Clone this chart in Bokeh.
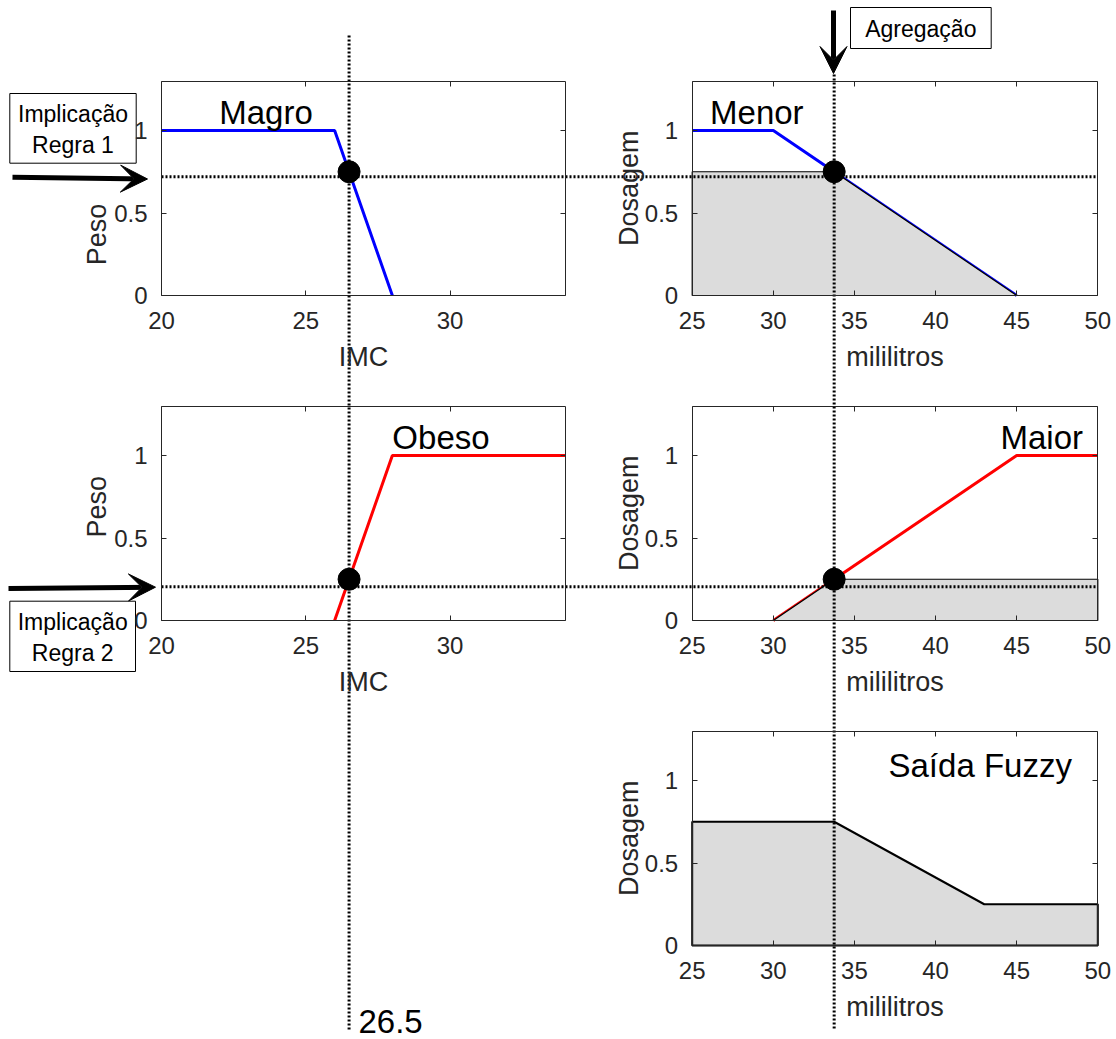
import math
from bokeh.plotting import figure
from bokeh.models import (Range1d, LinearAxis, FixedTicker, NumeralTickFormatter,
                          Arrow, VeeHead)
from bokeh.core.properties import value
from bokeh.embed import file_html
from bokeh.resources import INLINE

# ---------------- data ----------------
imc_entrada = 26.5
dose_corte = 33.75
grau_regra1 = 0.75
grau_regra2 = 0.25

magro_x = [20, 26, 28]
magro_y = [1, 1, 0]
obeso_x = [26, 28, 34]
obeso_y = [0, 1, 1]
menor_x = [25, 30, 45]
menor_y = [1, 1, 0]
maior_x = [30, 45, 50]
maior_y = [0, 1, 1]

menor_corte_x = [25, 25, 33.75, 45]
menor_corte_y = [0, 0.75, 0.75, 0]
maior_corte_x = [30, 33.75, 50, 50]
maior_corte_y = [0, 0.25, 0.25, 0]
saida_x = [25, 25, 33.75, 43, 50, 50]
saida_y = [0, 0.75, 0.75, 0.25, 0.25, 0]

guia_regra1 = 0.72
guia_regra2 = 0.205

imc_ticks = [20, 25, 30]
ml_ticks = [25, 30, 35, 40, 45, 50]
grau_ticks = [0, 0.5, 1]
imc_lim = (20, 34)
ml_lim = (25, 50)
grau_lim = (0, 1.3)

# ---------------- layout ----------------
W, H = 1116, 1039
FX0, FX1 = 0, W          # page x of frame edges
FY_BOT, FY_TOP = H, 0    # page y of frame edges

LEFT_PX = (161, 565)
RIGHT_PX = (691.7, 1097.3)
ROW_T = (295, 80.5)
ROW_M = (620, 405.5)
ROW_B = (945, 730.5)

panels = {
    "tl": (imc_lim, LEFT_PX, ROW_T, imc_ticks),
    "ml": (imc_lim, LEFT_PX, ROW_M, imc_ticks),
    "tr": (ml_lim, RIGHT_PX, ROW_T, ml_ticks),
    "mr": (ml_lim, RIGHT_PX, ROW_M, ml_ticks),
    "br": (ml_lim, RIGHT_PX, ROW_B, ml_ticks),
}

FONT = "Liberation Sans"
AX = "#262626"


def span_range(d0, d1, p0, p1, f_start, f_end):
    s = (d1 - d0) / (p1 - p0)
    return Range1d(start=d0 + (f_start - p0) * s, end=d0 + (f_end - p0) * s)


p = figure(width=W, height=H, x_range=Range1d(FX0, FX1), y_range=Range1d(FY_BOT, FY_TOP),
           x_axis_type=None, y_axis_type=None, toolbar_location=None,
           output_backend="svg", min_border=0, outline_line_color=None)
p.grid.visible = False

xr_extra, yr_extra = {}, {}
for k, (xlim, px, py, _) in panels.items():
    xr_extra[k + "_x"] = span_range(xlim[0], xlim[1], px[0], px[1], FX0, FX1)
    yr_extra[k + "_y"] = span_range(grau_lim[0], grau_lim[1], py[0], py[1], FY_BOT, FY_TOP)
p.extra_x_ranges = xr_extra
p.extra_y_ranges = yr_extra


def R(k):
    return dict(x_range_name=k + "_x", y_range_name=k + "_y")


def base_axis(k):
    return dict(x_range_name=k + "_x", y_range_name=k + "_y",
                axis_line_color=AX, axis_line_width=1,
                major_tick_line_color=AX, major_tick_line_width=1,
                minor_tick_line_color=None, major_tick_in=5, major_tick_out=0,
                major_label_text_font=FONT, major_label_text_font_size="24px",
                major_label_text_color=AX)


for k, (xlim, px, py, xticks) in panels.items():
    b = base_axis(k)
    ax_b = LinearAxis(ticker=FixedTicker(ticks=xticks), bounds=xlim,
                      fixed_location=grau_lim[0], major_label_standoff=16, **b)
    p.add_layout(ax_b, "below")
    b = base_axis(k); b["major_label_text_color"] = None
    ax_t = LinearAxis(ticker=FixedTicker(ticks=xticks), bounds=xlim,
                      fixed_location=grau_lim[1], **b)
    p.add_layout(ax_t, "above")
    b = base_axis(k)
    ax_l = LinearAxis(ticker=FixedTicker(ticks=grau_ticks), bounds=grau_lim,
                      formatter=NumeralTickFormatter(format="0.[0]"),
                      fixed_location=xlim[0], major_label_standoff=14, **b)
    p.add_layout(ax_l, "left")
    b = base_axis(k); b["major_label_text_color"] = None
    ax_r = LinearAxis(ticker=FixedTicker(ticks=grau_ticks), bounds=grau_lim,
                      fixed_location=xlim[1], **b)
    p.add_layout(ax_r, "right")

# membership functions
p.line(magro_x, magro_y, line_color="#0000ff", line_width=3, **R("tl"))
p.line(obeso_x, obeso_y, line_color="#ff0000", line_width=3, **R("ml"))
p.line(menor_x, menor_y, line_color="#0000ff", line_width=3, **R("tr"))
p.line(maior_x, maior_y, line_color="#ff0000", line_width=3, **R("mr"))

# clipped consequents and aggregated output
GRAY = "#dcdcdc"
p.patch(menor_corte_x, menor_corte_y, fill_color=GRAY, line_color="black", line_width=1.2, **R("tr"))
p.patch(maior_corte_x, maior_corte_y, fill_color=GRAY, line_color="black", line_width=1.2, **R("mr"))
p.patch(saida_x, saida_y, fill_color=GRAY, line_color="black", line_width=2, **R("br"))

# dotted guides
DOT = dict(line_color="black", line_width=3, line_dash="2 2")
p.line([imc_entrada, imc_entrada], [35, 1030], x_range_name="tl_x", **DOT)
p.line([dose_corte, dose_corte], [74, 1030], x_range_name="tr_x", **DOT)
p.line([LEFT_PX[0], RIGHT_PX[1]], [guia_regra1, guia_regra1], y_range_name="tl_y", **DOT)
p.line([LEFT_PX[0], RIGHT_PX[1]], [guia_regra2, guia_regra2], y_range_name="ml_y", **DOT)

# intersection points
p.scatter([imc_entrada], [grau_regra1], size=22, color="black", **R("tl"))
p.scatter([imc_entrada], [grau_regra2], size=22, color="black", **R("ml"))
p.scatter([dose_corte], [grau_regra1], size=22, color="black", **R("tr"))
p.scatter([dose_corte], [grau_regra2], size=22, color="black", **R("mr"))


def txt(x, y, s, size, color="black", align="left", angle=0.0, **kw):
    p.text([x], [y], text=[s], text_font=value(FONT), text_font_size=value(size),
           text_color=color, text_align=align, text_baseline="middle", angle=angle, **kw)


# panel titles
txt(22, 1.11, "Magro", "33px", **R("tl"))
txt(26.1, 1.11, "Menor", "33px", **R("tr"))
txt(28, 1.11, "Obeso", "33px", **R("ml"))
txt(44, 1.11, "Maior", "33px", **R("mr"))
txt(37.1, 1.09, "Saída Fuzzy", "33px", **R("br"))

# axis labels
for k in ("tl", "ml"):
    txt(27, -0.375, "IMC", "27px", color=AX, align="center", **R(k))
for k in ("tr", "mr", "br"):
    txt(37.5, -0.375, "mililitros", "27px", color=AX, align="center", **R(k))
    txt(21.08, 0.65, "Dosagem", "27px", color=AX, align="center", angle=math.pi / 2, **R(k))
txt(17.78, 0.37, "Peso", "27px", color=AX, align="center", angle=math.pi / 2, **R("tl"))
txt(17.78, 0.69, "Peso", "27px", color=AX, align="center", angle=math.pi / 2, **R("ml"))

# annotation boxes
p.quad(left=[9.3, 9.3, 850], right=[135.7, 135, 990.7], top=[93, 600.7, 7],
       bottom=[162.7, 671, 48], fill_color="white", line_color="black", line_width=1)
p.text([72.5, 72.2, 920.3], [129, 637, 28],
       text=["Implicação\nRegra 1", "Implicação\nRegra 2", "Agregação"],
       text_font=value(FONT), text_font_size=value("23px"), text_color="black",
       text_align="center", text_baseline="middle", text_line_height=1.2)

txt(358, 1021, "26.5", "33px")

# arrows
for xs, ys, xe, ye in [(12, 176.7, 147, 178.5), (8, 588, 155, 586.7), (833, 10, 833, 73)]:
    p.add_layout(Arrow(end=VeeHead(size=27, fill_color="black", line_color="black", line_width=1),
                       x_start=xs, y_start=ys, x_end=xe, y_end=ye,
                       line_color="black", line_width=5))

open("out.html", "w").write(file_html(p, INLINE))
